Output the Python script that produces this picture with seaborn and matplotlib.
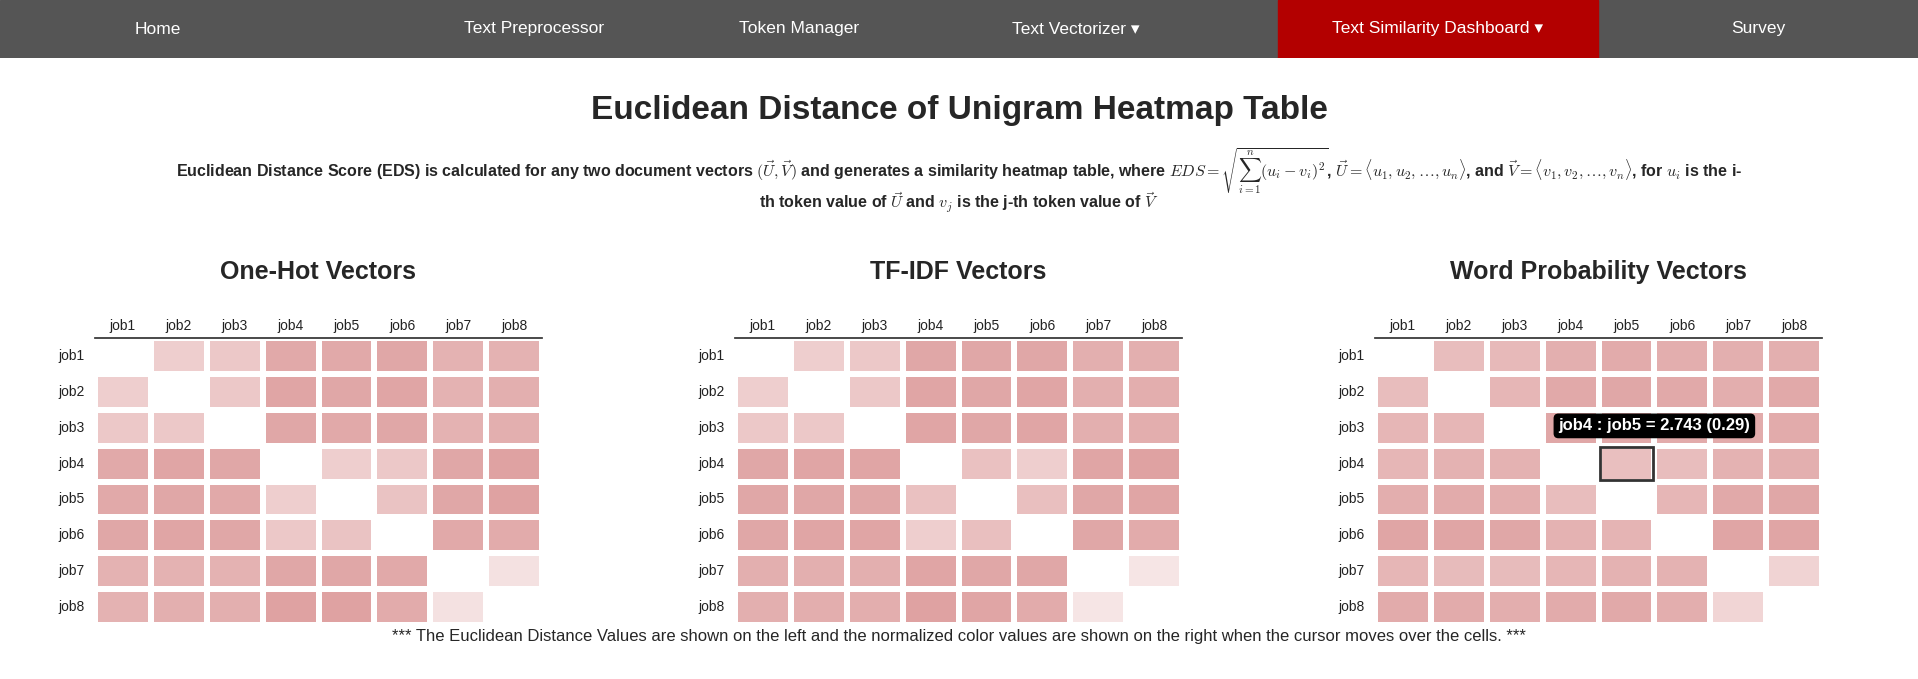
import matplotlib
matplotlib.use("Agg")
import matplotlib.pyplot as plt
import numpy as np
import pandas as pd
import seaborn as sns
from matplotlib.colors import LinearSegmentedColormap
from matplotlib.patches import Rectangle

sns.set_theme(style="white")
plt.rcParams["font.family"] = ["Liberation Sans", "DejaVu Sans"]
plt.rcParams["mathtext.fontset"] = "cm"

jobs = ["job1", "job2", "job3", "job4", "job5", "job6", "job7", "job8"]
nav_items = ["Home", "Text Preprocessor", "Token Manager", "Text Vectorizer \u25be",
             "Text Similarity Dashboard \u25be", "Survey"]
panel_titles = ["One-Hot Vectors", "TF-IDF Vectors", "Word Probability Vectors"]

# normalized colour values
onehot = [
    [0, .22, .25, .39, .39, .40, .35, .35],
    [.22, 0, .25, .41, .40, .41, .35, .36],
    [.25, .25, 0, .40, .39, .40, .35, .36],
    [.39, .41, .40, 0, .22, .25, .40, .42],
    [.39, .40, .39, .22, 0, .27, .40, .42],
    [.40, .41, .40, .25, .27, 0, .39, .38],
    [.35, .35, .35, .40, .40, .39, 0, .14],
    [.35, .36, .36, .42, .42, .38, .14, 0],
]
tfidf = [
    [0, .22, .25, .40, .40, .40, .36, .36],
    [.22, 0, .25, .41, .40, .41, .36, .37],
    [.25, .25, 0, .41, .40, .41, .36, .37],
    [.40, .41, .41, 0, .28, .22, .41, .42],
    [.40, .40, .40, .28, 0, .29, .40, .41],
    [.40, .41, .41, .22, .29, 0, .40, .38],
    [.36, .36, .36, .41, .40, .40, 0, .12],
    [.36, .37, .37, .42, .41, .38, .12, 0],
]
wordprob = [
    [0, .30, .32, .36, .38, .37, .36, .36],
    [.30, 0, .33, .39, .40, .39, .37, .39],
    [.33, .33, 0, .40, .39, .38, .38, .38],
    [.33, .35, .35, 0, .29, .30, .35, .36],
    [.37, .38, .37, .30, 0, .33, .39, .40],
    [.41, .41, .40, .35, .34, 0, .41, .41],
    [.33, .31, .31, .33, .35, .35, 0, .20],
    [.38, .38, .37, .38, .39, .37, .19, 0],
]
matrices = [onehot, tfidf, wordprob]
tooltip = "job4 : job5 = 2.743 (0.29)"

W, H = 1918, 679
fig = plt.figure(figsize=(W / 100, H / 100), dpi=100)

# navigation bar
nav = fig.add_axes([0, 1 - 58 / H, 1, 58 / H])
nav.set_xlim(0, W)
nav.set_ylim(0, 1)
nav.axis("off")
nav.add_patch(Rectangle((0, 0), W, 1, color="#555555"))
nav_x = [158, 534, 799, 1076, 1438, 1758]
nav.add_patch(Rectangle((1278, 0), 320, 1, color="#b30000"))
for x, t in zip(nav_x, nav_items):
    nav.text(x, 0.5, t, color="white", fontsize=12.5, ha="center", va="center")

fig.text(0.5, 1 - 111 / H, "Euclidean Distance of Unigram Heatmap Table",
         ha="center", va="center", fontsize=24, fontweight="bold")
line1 = (r"Euclidean Distance Score (EDS) is calculated for any two document vectors "
         r"$(\vec{U},\vec{V})$ and generates a similarity heatmap table, where "
         r"$EDS=\sqrt{\sum_{i=1}^{n}(u_i-v_i)^2}$, $\vec{U}=\langle u_1,u_2,\ldots,u_n\rangle$, "
         r"and $\vec{V}=\langle v_1,v_2,\ldots,v_n\rangle$, for $u_i$ is the i-")
line2 = r"th token value of $\vec{U}$ and $v_j$ is the j-th token value of $\vec{V}$"
fig.text(0.5, 1 - 171 / H, line1, ha="center", va="center", fontsize=11.5, fontweight="bold")
fig.text(0.5, 1 - 203 / H, line2, ha="center", va="center", fontsize=11.5, fontweight="bold")

cmap = LinearSegmentedColormap.from_list("wr", ["#ffffff", "#b22222"])
lefts = [95, 735, 1375]
for i, (mat, title, left) in enumerate(zip(matrices, panel_titles, lefts)):
    fig.text((left + 223) / W, 1 - 272 / H, title, ha="center", va="center",
             fontsize=18, fontweight="bold")
    ax = fig.add_axes([left / W, 1 - 625 / H, 447 / W, 287 / H])
    df = pd.DataFrame(mat, index=jobs, columns=jobs)
    sns.heatmap(df, ax=ax, cmap=cmap, vmin=0, vmax=1, cbar=False,
                linewidths=3, linecolor="white")
    ax.xaxis.tick_top()
    ax.tick_params(axis="both", length=4, labelsize=10, colors="#222222")
    ax.tick_params(axis="x", direction="in")
    plt.setp(ax.get_yticklabels(), rotation=0)
    ax.spines["top"].set_visible(True)
    ax.spines["top"].set_color("#333333")
    if i == 2:
        ax.add_patch(Rectangle((4.03, 3.03), 0.94, 0.94, fill=False, lw=2, ec="#333333"))
        ax.text(5.0, 2.45, tooltip, ha="center", va="center", color="white",
                fontsize=12, fontweight="bold",
                bbox=dict(boxstyle="round,pad=0.25", fc="black", ec="black"))

fig.text(0.5, 1 - 637 / H, "*** The Euclidean Distance Values are shown on the left and the "
         "normalized color values are shown on the right when the cursor moves over the cells. ***",
         ha="center", va="center", fontsize=12)

fig.savefig("out.png", dpi=100)
